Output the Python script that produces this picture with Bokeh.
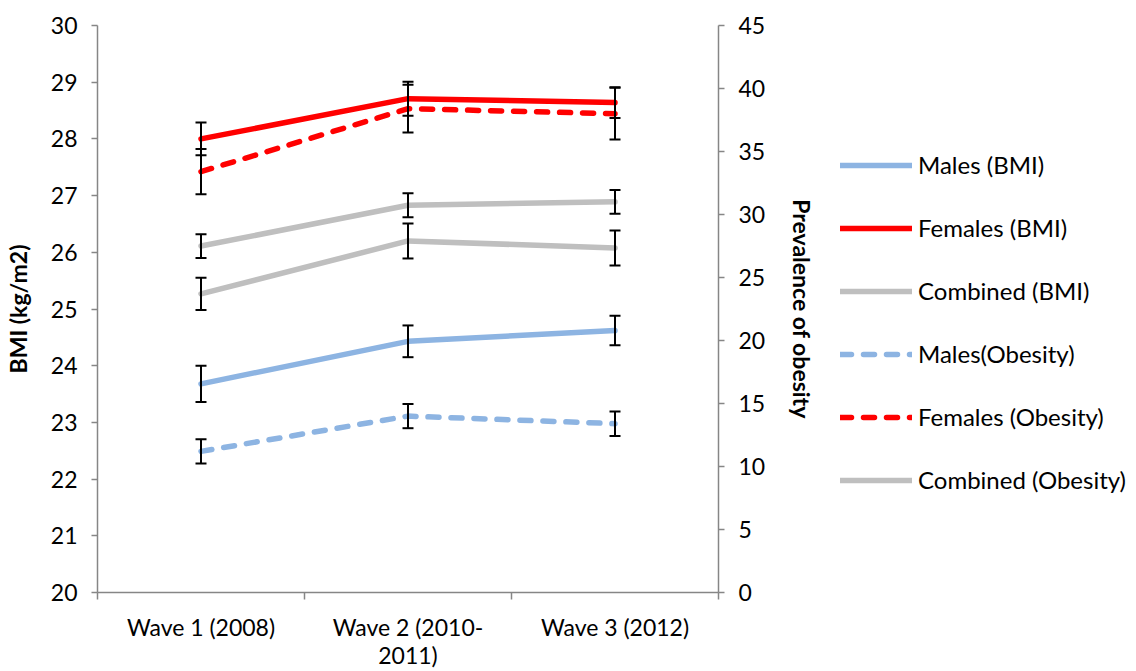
from bokeh.plotting import figure
from bokeh.layouts import row
from bokeh.models import (Range1d, LinearAxis, FixedTicker, Legend, LegendItem)
from bokeh.embed import file_html
from bokeh.resources import INLINE

# ---- data ----
waves = ["Wave 1 (2008)", "Wave 2 (2010-\n2011)", "Wave 3 (2012)"]

males_bmi = [23.68, 24.43, 24.62]
males_bmi_err = [0.32, 0.28, 0.26]
females_bmi = [28.00, 28.71, 28.64]
females_bmi_err = [0.29, 0.30, 0.27]
combined_bmi = [26.11, 26.83, 26.89]
combined_bmi_err = [0.21, 0.21, 0.21]

males_ob = [11.2, 14.0, 13.4]
males_ob_err = [0.97, 0.96, 0.97]
females_ob = [33.4, 38.4, 38.0]
females_ob_err = [1.8, 1.9, 2.05]
combined_ob = [23.7, 27.9, 27.35]
combined_ob_err = [1.28, 1.39, 1.39]

FONT = "Lato"
BLUE = "#8DB4E2"
RED = "#FF0000"
GRAY = "#BFBFBF"
AXIS = "#868686"

xs = [i + 0.5 for i in range(len(waves))]

MAIN_W = 830
p = figure(width=MAIN_W, height=671, output_backend="svg", toolbar_location=None,
           x_range=Range1d(0, len(waves)), y_range=Range1d(20, 30),
           min_border_left=97, min_border_right=MAIN_W - 718,
           min_border_top=25, min_border_bottom=75)
p.extra_y_ranges = {"prev": Range1d(0, 45)}
p.xgrid.visible = False
p.ygrid.visible = False
p.outline_line_color = None
p.background_fill_color = "white"
p.border_fill_color = "white"

def style_axis(ax, size="23px"):
    ax.axis_line_color = AXIS
    ax.axis_line_width = 1.5
    ax.major_tick_line_color = AXIS
    ax.major_tick_line_width = 1.5
    ax.minor_tick_line_color = AXIS
    ax.minor_tick_line_width = 1.5
    ax.major_label_text_font = FONT
    ax.major_label_text_font_size = size
    ax.major_label_text_color = "#000000"
    ax.axis_label_text_font = FONT
    ax.axis_label_text_font_size = "23px"
    ax.axis_label_text_font_style = "bold"
    ax.axis_label_text_color = "#000000"

# x axis
xa = p.xaxis[0]
xa.ticker = FixedTicker(ticks=xs, minor_ticks=list(range(len(waves) + 1)))
xa.major_label_overrides = {x: w for x, w in zip(xs, waves)}
xa.major_tick_out = 0
xa.major_tick_in = 0
xa.minor_tick_out = 7
xa.minor_tick_in = 0
style_axis(xa, "23px")
xa.major_label_text_line_height = 1.0
xa.major_label_standoff = 13

# left axis
ya = p.yaxis[0]
ya.ticker = FixedTicker(ticks=list(range(20, 31)), minor_ticks=[])
ya.major_tick_out = 6
ya.major_tick_in = 0
style_axis(ya)
ya.major_label_standoff = 14
ya.axis_label = "BMI (kg/m2)"
ya.axis_label_standoff = 16

# right axis
ra = LinearAxis(y_range_name="prev", ticker=FixedTicker(ticks=list(range(0, 46, 5)), minor_ticks=[]))
ra.major_tick_out = 6
ra.major_tick_in = 0
style_axis(ra)
ra.major_label_standoff = 14
ra.axis_label = "Prevalence of obesity"
ra.axis_label_standoff = 20
p.add_layout(ra, "right")

series = [
    ("Males (BMI)", males_bmi, males_bmi_err, BLUE, "solid", "default"),
    ("Females (BMI)", females_bmi, females_bmi_err, RED, "solid", "default"),
    ("Combined (BMI)", combined_bmi, combined_bmi_err, GRAY, "solid", "default"),
    ("Males(Obesity)", males_ob, males_ob_err, BLUE, "11 12", "prev"),
    ("Females (Obesity)", females_ob, females_ob_err, RED, "11 12", "prev"),
    ("Combined (Obesity)", combined_ob, combined_ob_err, GRAY, "solid", "prev"),
]

for name, vals, errs, color, dash, rng in series:
    p.line(xs, vals, line_color=color, line_width=5.5, line_dash=dash,
           line_cap="round", line_join="round", y_range_name=rng)

for name, vals, errs, color, dash, rng in series:
    lo = [v - e for v, e in zip(vals, errs)]
    hi = [v + e for v, e in zip(vals, errs)]
    p.segment(xs, lo, xs, hi, line_color="black", line_width=2, y_range_name=rng)
    p.scatter(xs, lo, marker="dash", size=11, line_color="black", line_width=2, y_range_name=rng)
    p.scatter(xs, hi, marker="dash", size=11, line_color="black", line_width=2, y_range_name=rng)

# ---- legend panel (separate figure; its lines fall outside its view, only legend shows) ----
LEG_W = 1136 - MAIN_W
pl = figure(width=LEG_W, height=671, output_backend="svg", toolbar_location=None,
            x_range=Range1d(0, 1), y_range=Range1d(0, 1),
            x_axis_location=None, y_axis_location=None,
            min_border=0, min_border_left=0, min_border_right=0,
            min_border_top=0, min_border_bottom=0)
pl.xgrid.visible = False
pl.ygrid.visible = False
pl.outline_line_color = None
pl.background_fill_color = "white"
pl.border_fill_color = "white"

items = []
for name, vals, errs, color, dash, rng in series:
    r = pl.line(xs, vals, line_color=color, line_width=5.5, line_dash=dash,
                line_cap="round", line_join="round")
    items.append(LegendItem(label=name, renderers=[r]))

legend = Legend(items=items, location=(10, 98), orientation="vertical")
legend.label_text_font = FONT
legend.label_text_font_size = "24px"
legend.label_text_color = "#000000"
legend.glyph_width = 72
legend.glyph_height = 20
legend.label_standoff = 6
legend.spacing = 34
legend.margin = 0
legend.padding = 0
legend.border_line_color = None
legend.background_fill_alpha = 0
pl.add_layout(legend, "center")

layout = row(p, pl, spacing=0)
open("out.html", "w").write(file_html(layout, INLINE))
